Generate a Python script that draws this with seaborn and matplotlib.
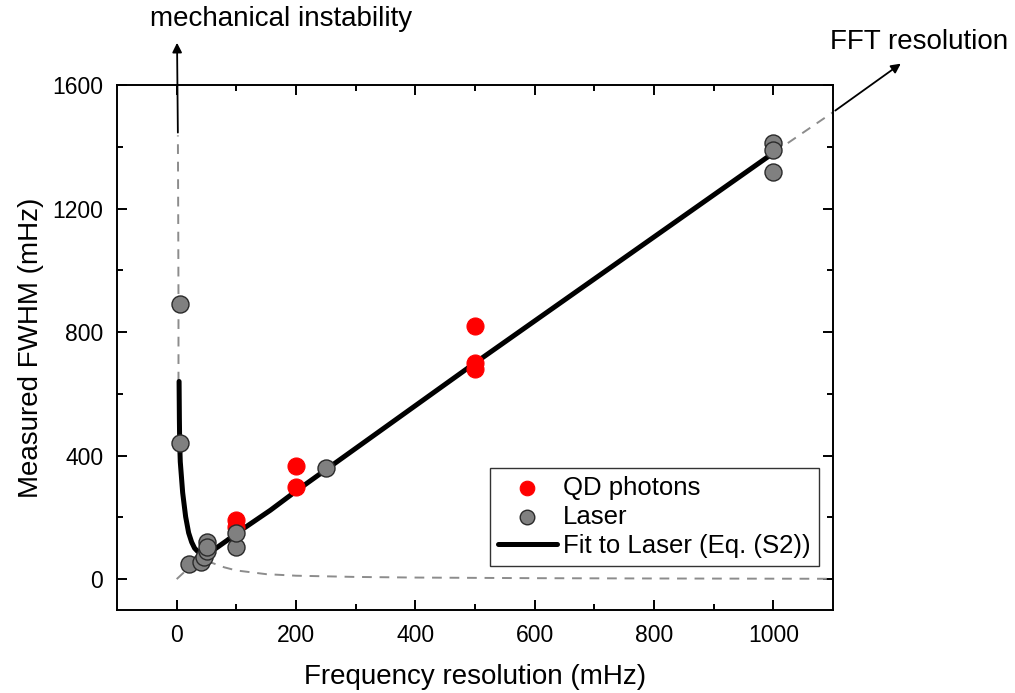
import numpy as np
import pandas as pd
import seaborn as sns
import matplotlib.pyplot as plt


# data
#====================================================================================================
qd_x = [100, 100, 200, 200, 500, 500, 500]
qd_y = [190, 170, 365, 298, 820, 700, 680]

laser_x = [5, 5, 20, 40, 45, 50, 50, 50, 100, 100, 250, 1000, 1000, 1000]
laser_y = [890, 440, 48, 55, 70, 90, 120, 105, 103, 148, 360, 1412, 1390, 1317]

fit_x = [4, 4.5, 5, 6, 8, 10, 15, 20, 25, 30, 35, 40, 50, 60, 85, 100, 157, 200, 500, 1000]
fit_y = [640, 520, 440, 380, 330, 280, 202, 150, 120, 100, 90, 86, 86, 92, 126, 148, 223, 285, 700, 1380]

# dashed extensions of the fit
mech_x = [3, 3, 2.5, 2]
mech_y = [640, 900, 1200, 1437]

fft_x = [1000, 1100]
fft_y = [1380, 1512]

low_x = [0, 10, 20, 30, 45, 60, 80, 100, 150, 200, 300, 400, 600, 800, 1100]
low_y = [0, 18, 35, 48, 55, 52, 38, 28, 16, 11, 7, 5, 3, 2, 1]
#====================================================================================================


sns.set_style("ticks")
plt.rcParams['font.family'] = ['Liberation Sans', 'DejaVu Sans']
plt.rcParams['text.color'] = 'black'
plt.rcParams['axes.labelcolor'] = 'black'
plt.rcParams['xtick.color'] = 'black'
plt.rcParams['ytick.color'] = 'black'

fig = plt.figure(figsize=(10.15, 6.93), dpi=100)
ax = fig.add_axes([0.1153, 0.1198, 0.7054, 0.7575])

df_qd = pd.DataFrame({'x': qd_x, 'y': qd_y})
df_laser = pd.DataFrame({'x': laser_x, 'y': laser_y})
df_fit = pd.DataFrame({'x': fit_x, 'y': fit_y})

# dashed guide curves
#----------------------------------------------------------------------------------------------------
dash_kw = dict(color='#8c8c8c', lw=1.4, dashes=(5, 4), estimator=None, sort=False, ax=ax)
sns.lineplot(x=mech_x, y=mech_y, **dash_kw)
sns.lineplot(x=fft_x, y=fft_y, **dash_kw)
sns.lineplot(x=low_x, y=low_y, **dash_kw)

# fit + data
#----------------------------------------------------------------------------------------------------
sns.lineplot(x='x', y='y', data=df_fit, color='black', lw=3.6, estimator=None, sort=False,
             ax=ax, label='Fit to Laser (Eq. (S2))', zorder=3)

sns.scatterplot(x='x', y='y', data=df_qd, color='#ff0000', edgecolor='#ff0000', s=150,
                linewidth=0.8, ax=ax, label='QD photons', zorder=4)

sns.scatterplot(x='x', y='y', data=df_laser, color='#808080', edgecolor='#2a2a2a', s=150,
                linewidth=1.0, ax=ax, label='Laser', zorder=5)

ax.set_xlim(-100, 1100)
ax.set_ylim(-100, 1600)

ax.set_xticks(np.arange(0, 1001, 200))
ax.set_xticks(np.arange(100, 1001, 200), minor=True)
ax.set_yticks(np.arange(0, 1601, 400))
ax.set_yticks(np.arange(200, 1601, 400), minor=True)

ax.tick_params(which='both', direction='in', top=True, right=True, width=1.4, labelsize=16.5, pad=10)
ax.tick_params(which='major', length=7)
ax.tick_params(which='minor', length=4)

for s in ax.spines.values():
    s.set_linewidth(1.4)
    s.set_color('black')

ax.set_xlabel('Frequency resolution (mHz)', fontsize=20, labelpad=12)
ax.set_ylabel('Measured FWHM (mHz)', fontsize=20, labelpad=6)

# legend in order QD, Laser, Fit
handles, labels = ax.get_legend_handles_labels()
order = [labels.index('QD photons'), labels.index('Laser'), labels.index('Fit to Laser (Eq. (S2))')]
leg = ax.legend([handles[i] for i in order], [labels[i] for i in order],
                loc='lower right', bbox_to_anchor=(0.98, 0.084), fontsize=18.5,
                frameon=True, fancybox=False, edgecolor='#333333', framealpha=1,
                handlelength=2.3, handletextpad=0.25, borderpad=0.3, labelspacing=0.2,
                borderaxespad=0)
leg.get_frame().set_linewidth(1.0)
for h in leg.legend_handles:
    if hasattr(h, 'set_sizes'):
        h.set_sizes([110])

# annotations
#----------------------------------------------------------------------------------------------------
ax.annotate('', xy=(0.1744, 0.9423), xycoords='figure fraction', xytext=(2, 1437), textcoords='data',
            arrowprops=dict(arrowstyle='-|>', color='black', lw=1.3, mutation_scale=14))
ax.annotate('', xy=(0.8897, 0.9105), xycoords='figure fraction', xytext=(1100, 1512), textcoords='data',
            arrowprops=dict(arrowstyle='-|>', color='black', lw=1.3, mutation_scale=14))

fig.text(0.2768, 0.972, 'mechanical instability', fontsize=20, ha='center', va='center')
fig.text(0.9054, 0.940, 'FFT resolution', fontsize=20, ha='center', va='center')

plt.savefig('out.png', dpi=100)
